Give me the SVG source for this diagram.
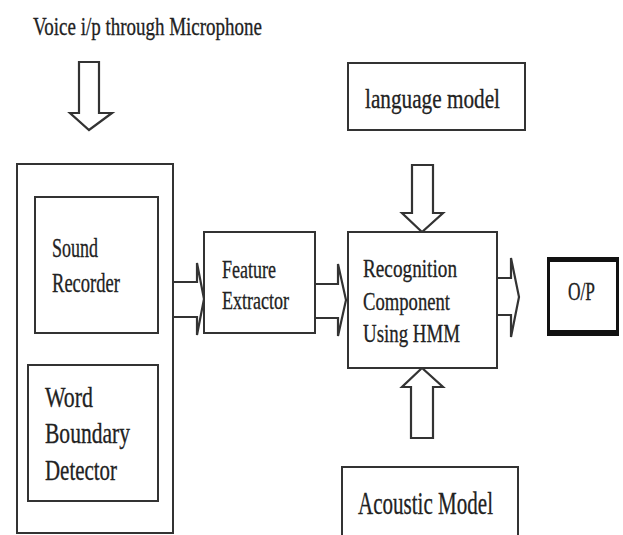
<svg xmlns="http://www.w3.org/2000/svg" width="623" height="535" viewBox="0 0 623 535">
<style>
.box{fill:#fff;stroke:#333;stroke-width:2}
.arr{fill:#fff;stroke:#333;stroke-width:2.2;stroke-linejoin:miter}
.t{font-family:"Liberation Serif",serif;fill:#222;stroke:#222;stroke-width:0.3}
</style>
<rect width="623" height="535" fill="#fff"/>
<g id="input-label"><text class="t" x="33" y="35" font-size="25" textLength="229" lengthAdjust="spacingAndGlyphs">Voice i/p through Microphone</text></g>
<g id="connectors">
<path class="arr" d="M79,62 H99 V113 H112 L89,130 L70,113 H79 Z"/>
<path class="arr" d="M173,282 H197 V263 L204,299 L197,335 V317 H173"/>
<path class="arr" d="M315,284 H338 V264 L346,300 L338,336 V318 H315"/>
<path class="arr" d="M497,278 H511 V258 L519,297 L511,337 V315 H497"/>
<path class="arr" d="M412,165 H433 V213 H443 L422,232 L402,213 H412 Z"/>
<path class="arr" d="M411,438 H433 V387 H443 L422,368 L402,387 H411 Z"/>
</g>
<g id="outer-box"><rect class="box" x="17" y="164" width="156" height="369"/></g>
<g id="sound-recorder">
<rect class="box" x="35" y="197" width="123" height="136"/>
<text class="t" x="52" y="257" font-size="27" textLength="46" lengthAdjust="spacingAndGlyphs">Sound</text>
<text class="t" x="52" y="292" font-size="27" textLength="68" lengthAdjust="spacingAndGlyphs">Recorder</text>
</g>
<g id="word-boundary-detector">
<rect class="box" x="28" y="365" width="130" height="136"/>
<text class="t" x="45" y="407" font-size="29" textLength="48" lengthAdjust="spacingAndGlyphs">Word</text>
<text class="t" x="45" y="443" font-size="29" textLength="85" lengthAdjust="spacingAndGlyphs">Boundary</text>
<text class="t" x="45" y="480" font-size="29" textLength="72" lengthAdjust="spacingAndGlyphs">Detector</text>
</g>
<g id="feature-extractor">
<rect class="box" x="204" y="232" width="111" height="101"/>
<text class="t" x="222" y="278" font-size="25" textLength="54" lengthAdjust="spacingAndGlyphs">Feature</text>
<text class="t" x="222" y="309" font-size="25" textLength="67" lengthAdjust="spacingAndGlyphs">Extractor</text>
</g>
<g id="language-model">
<rect class="box" x="348" y="63" width="177" height="67"/>
<text class="t" x="365" y="108" font-size="27" textLength="135" lengthAdjust="spacingAndGlyphs">language model</text>
</g>
<g id="recognition">
<rect class="box" x="348" y="232" width="149" height="136"/>
<text class="t" x="363" y="277" font-size="26" textLength="94" lengthAdjust="spacingAndGlyphs">Recognition</text>
<text class="t" x="363" y="310" font-size="26" textLength="87" lengthAdjust="spacingAndGlyphs">Component</text>
<text class="t" x="363" y="342" font-size="26" textLength="97" lengthAdjust="spacingAndGlyphs">Using HMM</text>
</g>
<g id="acoustic-model">
<rect class="box" x="342" y="467" width="176" height="70"/>
<text class="t" x="358" y="514" font-size="32" textLength="135" lengthAdjust="spacingAndGlyphs">Acoustic Model</text>
</g>
<g id="output">
<rect x="548.5" y="259.5" width="69" height="74" fill="#fff" stroke="#111" stroke-width="3"/>
<rect x="547" y="257" width="72" height="5" fill="#111"/>
<rect x="547" y="330" width="72" height="6" fill="#111"/>
<text class="t" x="568" y="300" font-size="25" textLength="27" lengthAdjust="spacingAndGlyphs">O/P</text>
</g>
</svg>
